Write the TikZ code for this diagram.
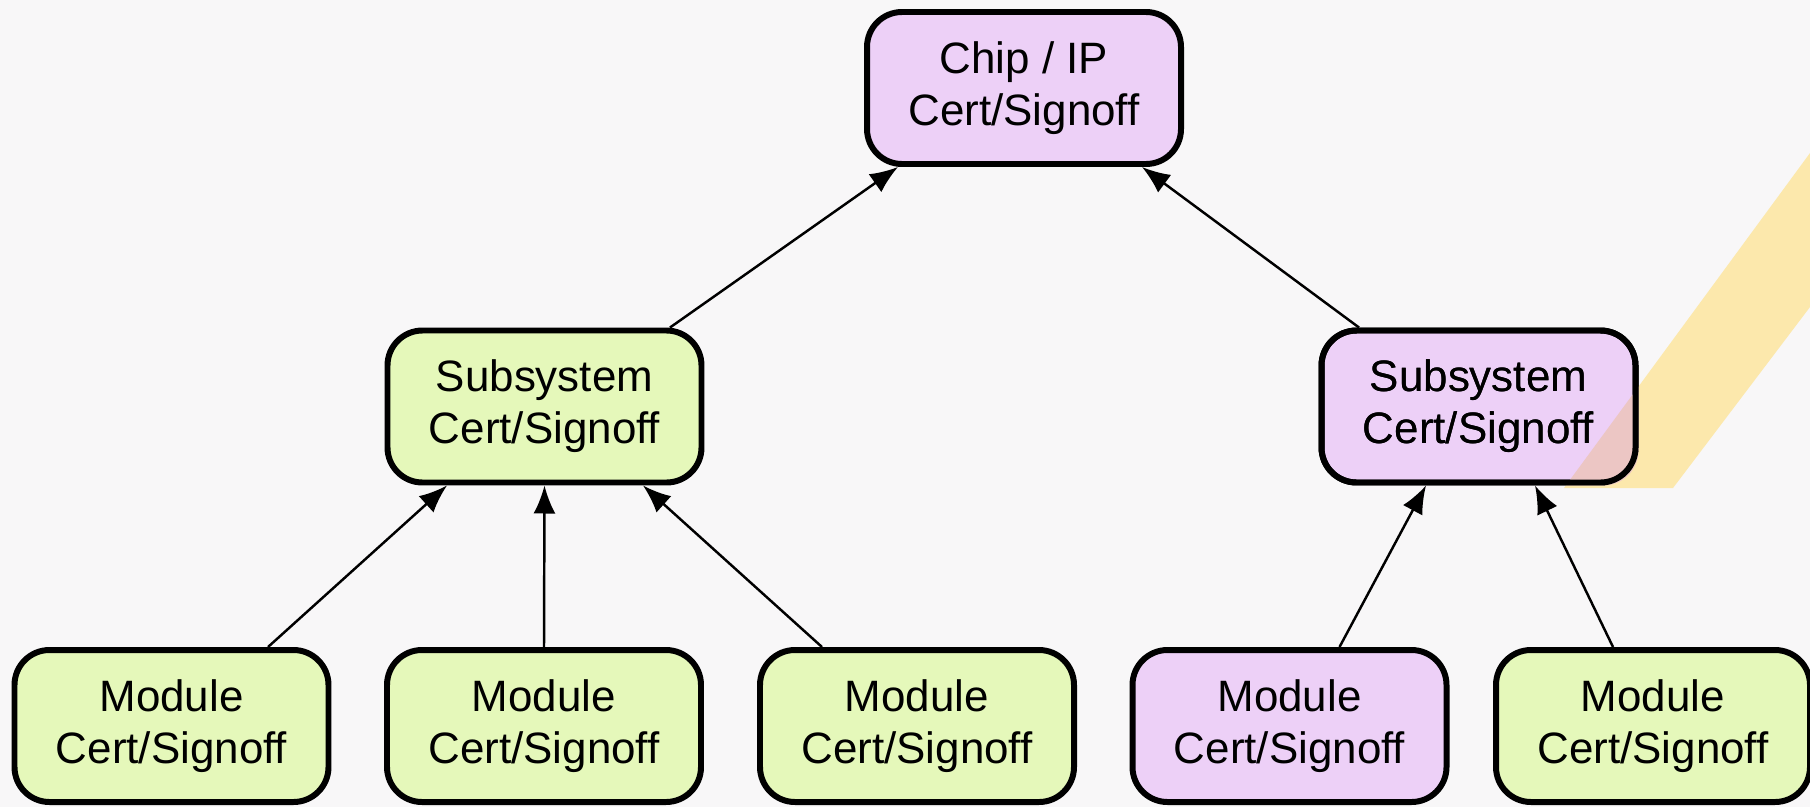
\documentclass[tikz,border=0pt]{standalone}
\usepackage{fontspec}
\setmainfont{Liberation Sans}
\usetikzlibrary{arrows.meta}
\definecolor{bgcol}{RGB}{248,247,248}
\definecolor{lavender}{RGB}{237,208,247}
\definecolor{limegreen}{RGB}{229,248,186}
\definecolor{bandyellow}{RGB}{252,232,172}
\definecolor{bandpink}{RGB}{236,198,196}
\begin{document}
\begin{tikzpicture}[
    certbox/.style={draw=black, line width=1.7pt, rounded corners=0.35cm,
        minimum width=3.14cm, minimum height=1.52cm, align=center,
        font=\fontsize{12.5}{14.8}\selectfont, inner sep=0pt},
    purplebox/.style={certbox, fill=lavender},
    greenbox/.style={certbox, fill=limegreen},
    arr/.style={-{Latex[length=0.28cm,width=0.22cm]}, line width=0.7pt}
]
                \useasboundingbox (0,0) rectangle (18.1,8.07);
                \fill[bgcol] (0,0) rectangle (18.1,8.07);
                \fill[bandyellow] (18.1,6.54) -- (15.64,3.19) -- (16.73,3.19) -- (18.1,5.0) -- cycle;

                \node [purplebox] (chip) at (10.24,7.19) {Chip / IP\\Cert/Signoff};
                \node [greenbox] (subL) at (5.445,4.005) {Subsystem\\Cert/Signoff};
                \node [purplebox] (subR) at (14.785,4.005) {Subsystem\\Cert/Signoff};

                \node [greenbox] (m1) at (1.715,0.81) {Module\\Cert/Signoff};
                \node [greenbox] (m2) at (5.44,0.81) {Module\\Cert/Signoff};
                \node [greenbox] (m3) at (9.17,0.81) {Module\\Cert/Signoff};
                \node [purplebox] (m4) at (12.895,0.81) {Module\\Cert/Signoff};
                \node [greenbox] (m5) at (16.53,0.81) {Module\\Cert/Signoff};

                % band seen through the right subsystem box
                \begin{scope}
                    \clip[rounded corners=0.35cm] (subR.south west) rectangle (subR.north east);
                    \fill[bandpink] (18.1,6.54) -- (15.64,3.19) -- (16.73,3.19) -- (18.1,5.0) -- cycle;
                \end{scope}
                \node [certbox, fill=none] at (subR) {\phantom{Subsystem}\\\phantom{Cert/Signoff}};
                \node [align=center, font=\fontsize{12.5}{14.8}\selectfont, inner sep=0pt] at (subR) {Subsystem\\Cert/Signoff};

                \draw[arr] ([xshift=1.255cm]subL.north) -- ([xshift=-1.26cm]chip.south);
                \draw[arr] ([xshift=-1.195cm]subR.north) -- ([xshift=1.18cm]chip.south);

                \draw[arr] ([xshift=0.965cm]m1.north) -- ([xshift=-0.975cm]subL.south);
                \draw[arr] (m2.north) -- (subL.south);
                \draw[arr] ([xshift=-0.95cm]m3.north) -- ([xshift=0.985cm]subL.south);
                \draw[arr] ([xshift=0.5cm]m4.north) -- ([xshift=-0.525cm]subR.south);
                \draw[arr] ([xshift=-0.40cm]m5.north) -- ([xshift=0.565cm]subR.south);
\end{tikzpicture}
\end{document}
